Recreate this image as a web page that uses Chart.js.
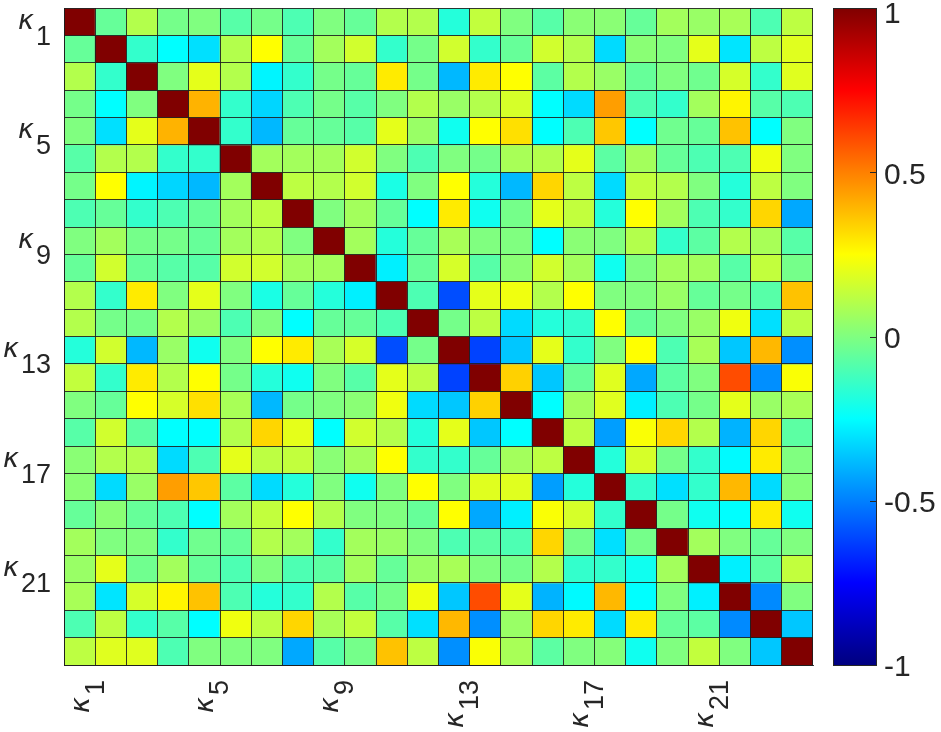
<!DOCTYPE html>
<html><head><meta charset="utf-8">
<script src="https://cdn.jsdelivr.net/npm/chart.js@4/dist/chart.umd.min.js"></script>
<style>html,body{margin:0;padding:0;background:#fff;}#wrap{position:relative;width:941px;height:732px;}</style>
</head><body><div id="wrap"><canvas id="c" width="941" height="732"></canvas></div>
<script>
// ---- data ----
const categories = ['κ1','κ2','κ3','κ4','κ5','κ6','κ7','κ8','κ9','κ10','κ11','κ12','κ13','κ14','κ15','κ16','κ17','κ18','κ19','κ20','κ21','κ22','κ23','κ24'];
const row1  = [1,-0.05,0.1,-0.02,0,-0.08,-0.02,-0.1,0,-0.05,0.1,0.1,-0.18,0.13,0,-0.08,0.02,0.02,-0.05,0.07,0.05,0.08,-0.1,0.12];
const row2  = [-0.05,1,-0.15,-0.25,-0.31,0.1,0.25,-0.05,0.07,0.16,-0.15,-0.02,0.16,-0.15,-0.05,0.16,0.1,-0.32,0.02,0,0.2,-0.3,0.12,0.19];
const row3  = [0.1,-0.15,1,0,0.2,0.1,-0.27,-0.15,-0.02,-0.05,0.29,-0.02,-0.39,0.29,0.25,-0.07,0.1,0.05,-0.05,0,-0.03,0.17,-0.15,0.19];
const row4  = [-0.02,-0.25,0,1,0.4,-0.15,-0.33,-0.1,-0.02,-0.08,0,0.1,0.05,0.1,0.17,-0.25,-0.32,0.44,-0.1,-0.15,0.07,0.27,-0.08,-0.1];
const row5  = [0,-0.31,0.2,0.4,1,-0.15,-0.39,-0.05,-0.05,-0.08,0.2,0.05,-0.22,0.25,0.31,-0.25,-0.1,0.36,-0.25,-0.03,-0.05,0.37,-0.25,0];
const row6  = [-0.08,0.1,0.1,-0.15,-0.15,1,0.07,0.07,0.07,0.16,0,-0.1,0,-0.02,0.08,0.1,0.2,-0.07,0.07,-0.05,-0.1,-0.1,0.22,0];
const row7  = [-0.02,0.25,-0.27,-0.33,-0.39,0.07,1,0.12,0.1,0.16,-0.2,0,0.25,-0.18,-0.39,0.33,0.12,-0.32,0.13,0.1,0,-0.18,0.12,0];
const row8  = [-0.1,-0.05,-0.15,-0.1,-0.05,0.07,0.12,1,0,0.07,-0.05,-0.25,0.29,-0.22,-0.02,0.2,0.13,-0.18,0.25,0.07,-0.1,-0.15,0.33,-0.42];
const row9  = [0,0.07,-0.02,-0.02,-0.05,0.07,0.1,0,1,0.07,-0.18,-0.05,0.08,0,0,-0.25,0.02,0,0.1,-0.15,-0.07,0.1,0.08,-0.08];
const row10 = [-0.05,0.16,-0.05,-0.08,-0.08,0.16,0.16,0.07,0.07,1,-0.28,-0.05,0.17,-0.08,0.02,0.16,0.07,-0.22,0,0.07,0.07,-0.08,0.13,-0.02];
const row11 = [0.1,-0.15,0.29,0,0.2,0,-0.2,-0.05,-0.18,-0.28,1,-0.1,-0.6,0.2,0.22,0.1,0.25,0,0,0.05,-0.05,-0.02,-0.08,0.37];
const row12 = [0.1,-0.02,-0.02,0.1,0.05,-0.1,0,-0.25,-0.05,-0.05,-0.1,1,-0.02,0.12,-0.32,-0.18,-0.15,0.25,-0.05,0,0.05,0.22,-0.31,0.12];
const row13 = [-0.18,0.16,-0.39,0.05,-0.22,0,0.25,0.29,0.08,0.17,-0.6,-0.02,1,-0.62,-0.36,0.2,-0.15,0,0.25,-0.1,0.08,-0.36,0.39,-0.47];
const row14 = [0.13,-0.15,0.29,0.1,0.25,-0.02,-0.18,-0.22,0,-0.08,0.2,0.12,-0.62,1,0.34,-0.36,-0.05,0.19,-0.42,-0.07,0,0.6,-0.47,0.24];
const row15 = [0,-0.05,0.25,0.17,0.31,0.08,-0.39,-0.02,0,0.02,0.22,-0.32,-0.36,0.34,1,-0.25,0.07,0.19,-0.28,-0.1,-0.02,0.2,0.05,0.08];
const row16 = [-0.08,0.16,-0.07,-0.25,-0.25,0.1,0.33,0.2,-0.25,0.16,0.1,-0.18,0.2,-0.36,-0.25,1,0.12,-0.44,0.24,0.33,0.1,-0.4,0.33,-0.07];
const row17 = [0.02,0.1,0.1,-0.32,-0.1,0.2,0.12,0.13,0.02,0.07,0.25,-0.15,-0.15,-0.05,0.07,0.12,1,-0.18,0.17,-0.02,-0.15,-0.26,0.29,0];
const row18 = [0.02,-0.32,0.05,0.44,0.36,-0.07,-0.32,-0.18,0,-0.22,0,0.25,0,0.19,0.19,-0.44,-0.18,1,-0.15,-0.31,-0.15,0.39,-0.32,0.01];
const row19 = [-0.05,0.02,-0.05,-0.1,-0.25,0.07,0.13,0.25,0.1,0,0,-0.05,0.25,-0.42,-0.28,0.24,0.17,-0.15,1,-0.02,-0.22,-0.25,0.29,-0.22];
const row20 = [0.07,0,0,-0.15,-0.03,-0.05,0.1,0.07,-0.15,0.07,0.05,0,-0.1,-0.07,-0.1,0.33,-0.02,-0.31,-0.02,1,0.07,0,-0.05,0];
const row21 = [0.05,0.2,-0.03,0.07,-0.05,-0.1,0,-0.1,-0.07,0.07,-0.05,0.05,0.08,0,-0.02,0.1,-0.15,-0.15,-0.22,0.07,1,-0.28,-0.07,0.13];
const row22 = [0.08,-0.3,0.17,0.27,0.37,-0.1,-0.18,-0.15,0.1,-0.08,-0.02,0.22,-0.36,0.6,0.2,-0.4,-0.26,0.39,-0.25,0,-0.28,1,-0.48,0];
const row23 = [-0.1,0.12,-0.15,-0.08,-0.25,0.22,0.12,0.33,0.08,0.13,-0.08,-0.31,0.39,-0.47,0.05,0.33,0.29,-0.32,0.29,-0.05,-0.07,-0.48,1,-0.36];
const row24 = [0.12,0.19,0.19,-0.1,0,0,0,-0.42,-0.08,-0.02,0.37,0.12,-0.47,0.24,0.08,-0.07,0,0.01,-0.22,0,0.13,0,-0.36,1];
const rows = [row1,row2,row3,row4,row5,row6,row7,row8,row9,row10,row11,row12,row13,row14,row15,row16,row17,row18,row19,row20,row21,row22,row23,row24];
const tickIndex = [0,4,8,12,16,20];
const tickBase = 'κ';
const tickSubs = ['1','5','9','13','17','21'];
const cbTicks = [1,0.5,0,-0.5,-1];
const cbTickLabels = ['1','0.5','0','-0.5','-1'];

// ---- jet colormap ----
function jet(v){
  const t = Math.max(0, Math.min(1, (v + 1) / 2));
  const c = x => Math.max(0, Math.min(1, x));
  const r = c(1.5 - Math.abs(4*t - 3));
  const g = c(1.5 - Math.abs(4*t - 2));
  const b = c(1.5 - Math.abs(4*t - 1));
  return `rgb(${Math.round(r*255)},${Math.round(g*255)},${Math.round(b*255)})`;
}

const TXT = '#262626';
const GRID = 'rgba(30,30,30,0.88)';
const datasets = rows.map((vals, i) => ({
  data: categories.map(() => [i, i + 1]),
  backgroundColor: vals.map(jet),
  borderWidth: 0,
  barPercentage: 1,
  categoryPercentage: 1,
  grouped: false
}));

const labelPlugin = {
  id: 'labels',
  afterDraw(chart){
    const ctx = chart.ctx, xs = chart.scales.x, ys = chart.scales.y, cb = chart.scales.cb;
    ctx.save();
    ctx.fillStyle = TXT;
    const kFont = 'oblique 27px "DejaVu Sans", sans-serif';
    const sFont = '27px "Liberation Sans", Arial, sans-serif';
    // y tick labels
    tickIndex.forEach((idx, k) => {
      const yc = ys.getPixelForValue(idx + 0.5);
      const sub = tickSubs[k];
      ctx.textAlign = 'right'; ctx.textBaseline = 'alphabetic';
      ctx.font = sFont; const sw = ctx.measureText(sub).width;
      ctx.fillText(sub, 51, yc + 23);
      ctx.font = kFont; ctx.fillText(tickBase, 51 - sw - 2, yc + 7);
    });
    // x tick labels (rotated)
    tickIndex.forEach((idx, k) => {
      const xc = xs.getPixelForValue(idx);
      const sub = tickSubs[k];
      ctx.save();
      ctx.translate(xc, 680);
      ctx.rotate(-Math.PI / 2);
      ctx.textAlign = 'right'; ctx.textBaseline = 'alphabetic';
      ctx.font = sFont; const sw = ctx.measureText(sub).width;
      ctx.fillText(sub, 0, 24);
      ctx.font = kFont; ctx.fillText(tickBase, -sw - 2, 9);
      ctx.restore();
    });
    // colorbar
    const x0 = 833, x1 = 876;
    const top = cb.getPixelForValue(1), bot = cb.getPixelForValue(-1);
    const g = ctx.createLinearGradient(0, bot, 0, top);
    for (let s = 0; s <= 64; s++) { const v = -1 + 2*s/64; g.addColorStop(s/64, jet(v)); }
    ctx.fillStyle = g;
    ctx.fillRect(x0, top, x1 - x0, bot - top);
    ctx.strokeStyle = TXT; ctx.lineWidth = 1;
    ctx.strokeRect(x0 + 0.5, Math.round(top) + 0.5, x1 - x0, Math.round(bot - top));
    ctx.fillStyle = TXT;
    ctx.font = '30px "Liberation Sans", Arial, sans-serif';
    ctx.textAlign = 'left'; ctx.textBaseline = 'middle';
    cbTicks.forEach((v, k) => {
      const y = cb.getPixelForValue(v);
      ctx.beginPath(); ctx.moveTo(x1 - 6, Math.round(y) + 0.5); ctx.lineTo(x1, Math.round(y) + 0.5); ctx.stroke();
      let ly = y + 3;
      if (ly < 15) ly = 15;
      ctx.fillText(cbTickLabels[k], 884, ly);
    });
    ctx.restore();
  }
};

new Chart(document.getElementById('c'), {
  type: 'bar',
  data: { labels: categories, datasets },
  options: {
    responsive: false,
    animation: false,
    devicePixelRatio: 1,
    layout: { padding: { left: 64, right: 128, top: 8, bottom: 67 } },
    plugins: { legend: { display: false }, tooltip: { enabled: false } },
    scales: {
      x: {
        type: 'category',
        ticks: { display: false },
        grid: { offset: true, z: 1, color: GRID, lineWidth: 1, drawTicks: false },
        border: { display: true, z: 1, color: GRID }
      },
      y: {
        type: 'linear', min: 0, max: 24, reverse: true,
        ticks: { display: false, stepSize: 1 },
        grid: { z: 1, color: GRID, lineWidth: 1, drawTicks: false },
        border: { display: true, z: 1, color: GRID }
      },
      cb: { type: 'linear', display: false, position: 'right', min: -1, max: 1 }
    }
  },
  plugins: [labelPlugin]
});
</script></body></html>
